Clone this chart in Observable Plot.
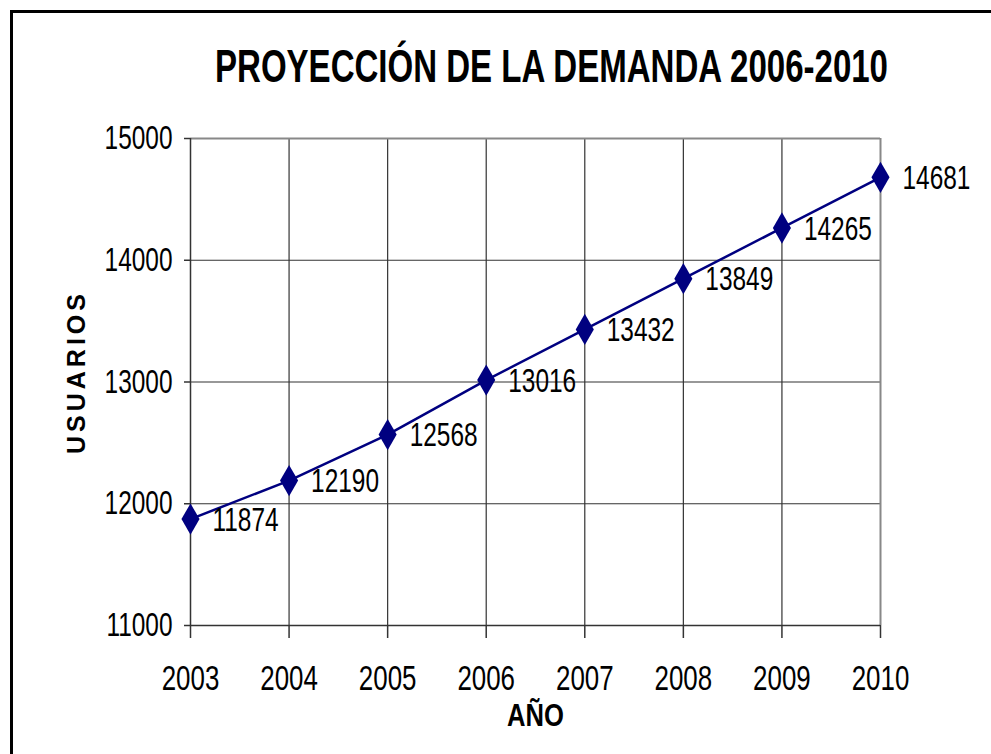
<!DOCTYPE html>
<html>
<head>
<meta charset="utf-8">
<script src="https://cdn.jsdelivr.net/npm/d3@7"></script>
<script src="https://cdn.jsdelivr.net/npm/@observablehq/plot@0.6"></script>
<style>
  html, body { margin: 0; padding: 0; background: #fff; }
  #wrap { position: relative; width: 991px; height: 754px; overflow: hidden; }
  #frame { position: absolute; left: 10px; top: 10px; width: 1000px; height: 800px;
           border-left: 3px solid #000; border-top: 3px solid #000; box-sizing: border-box; }
  #title { position: absolute; left: 0; top: 0; width: 991px; height: 120px; }
  #chart { position: absolute; left: 0; top: 0; }
</style>
</head>
<body>
<div id="wrap">
  <div id="frame"></div>
  <div id="chart"></div>
  <svg id="title" width="991" height="120"></svg>
</div>
<script>
const years = [2003, 2004, 2005, 2006, 2007, 2008, 2009, 2010];
const usuarios = [11874, 12190, 12568, 13016, 13432, 13849, 14265, 14681];
const yTicks = [11000, 12000, 13000, 14000, 15000];
const titleText = "PROYECCIÓN DE LA DEMANDA 2006-2010";
const xLabel = "AÑO";
const yLabel = "USUARIOS";

const data = years.map((y, i) => ({year: y, value: usuarios[i]}));
const font = '"Liberation Sans", Arial, sans-serif';

const plot = Plot.plot({
  width: 991,
  height: 754,
  marginLeft: 190,
  marginRight: 111,
  marginTop: 138,
  marginBottom: 129,
  style: { fontFamily: font, background: "transparent", overflow: "visible" },
  x: { type: "linear", domain: [2003, 2010] },
  y: { domain: [11000, 15000] },
  marks: [
    Plot.ruleX(years.slice(1, -1), { stroke: "#333", strokeWidth: 1.2 }),
    Plot.ruleY(yTicks.slice(1, -1), { stroke: "#333", strokeWidth: 1.2 }),
    Plot.ruleY([15000], { stroke: "#888", strokeWidth: 2 }),
    Plot.ruleX([2010], { stroke: "#888", strokeWidth: 2 }),
    Plot.ruleX([2003], { stroke: "#333", strokeWidth: 1.5 }),
    Plot.ruleY([11000], { stroke: "#333", strokeWidth: 1.5 }),
    Plot.axisY({ ticks: yTicks, tickSize: 6, tickPadding: 12, tickFormat: d => String(d),
                 fontSize: 33, stroke: "#333", strokeWidth: 1.5, label: null }),
    Plot.axisX({ ticks: years, tickSize: 13, tickPadding: 27, tickFormat: d => String(d),
                 fontSize: 35, stroke: "#333", strokeWidth: 1.5, label: null }),
    Plot.line(data, { x: "year", y: "value", stroke: "#000080", strokeWidth: 2.5 }),
    Plot.dot(data, { x: "year", y: "value", symbol: "diamond", r: 9.5, fill: "#000080", stroke: "none" }),
    Plot.text(data, { x: "year", y: "value", text: d => String(d.value), textAnchor: "start",
                      dx: 22, dy: 1, fontSize: 33, fill: "#000" }),
    Plot.text([xLabel], { frameAnchor: "bottom", dy: 100, text: d => d, fontSize: 32,
                          fontWeight: "bold", fill: "#000" }),
    Plot.text([yLabel], { frameAnchor: "left", textAnchor: "middle", dx: -114, dy: -10, rotate: -90,
                          text: d => d, fontSize: 25, fontWeight: "bold", fill: "#000" })
  ]
});
document.getElementById("chart").appendChild(plot);

function condense(t, factor) {
  const len = t.getComputedTextLength();
  t.setAttribute("textLength", (len * factor).toFixed(2));
  t.setAttribute("lengthAdjust", "spacingAndGlyphs");
}
plot.querySelectorAll("text").forEach(t => {
  const s = t.textContent;
  if (s === yLabel) { t.setAttribute("letter-spacing", "4"); return; }
  if (s === xLabel) { condense(t, 0.8); return; }
  condense(t, 0.74);
});

// Title
const tsvg = d3.select("#title");
const tt = tsvg.append("text")
  .attr("x", 551.5).attr("y", 82)
  .attr("text-anchor", "middle")
  .attr("font-family", font)
  .attr("font-weight", "bold")
  .attr("font-size", 47)
  .attr("fill", "#000")
  .text(titleText);
tt.attr("textLength", 673).attr("lengthAdjust", "spacingAndGlyphs");
</script>
</body>
</html>
